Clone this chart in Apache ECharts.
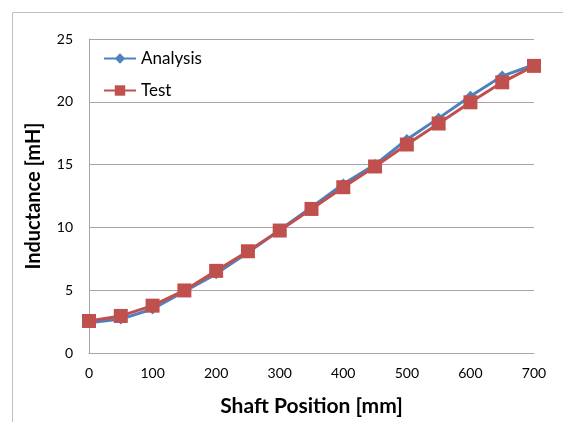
<!DOCTYPE html>
<html><head><meta charset="utf-8">
<script src="https://cdn.jsdelivr.net/npm/echarts@6/dist/echarts.min.js"></script>
<style>html,body{margin:0;padding:0;background:#fff}#c{width:563px;height:422px}</style>
</head><body><div id="c"></div>
<script>
var positions = [0,50,100,150,200,250,300,350,400,450,500,550,600,650,700];
var analysis = [2.4,2.7,3.5,4.9,6.3,8.0,9.8,11.6,13.45,15.0,17.0,18.7,20.45,22.05,22.95];
var test = [2.55,2.95,3.77,4.98,6.54,8.1,9.75,11.47,13.2,14.85,16.6,18.27,19.96,21.55,22.86];
var xTicks = [0,100,200,300,400,500,600,700];
var yTicks = [0,5,10,15,20,25];

var chart = echarts.init(document.getElementById('c'), null, {renderer:'canvas'});
var F = 'Lato, "Liberation Sans", sans-serif';
chart.setOption({
  animation:false,
  backgroundColor:'#fff',
  graphic:[{type:'rect',shape:{x:12.5,y:12.5,width:700,height:600},style:{fill:'none',stroke:'#bfbfbf',lineWidth:1},silent:true}],
  grid:{left:89,top:39,width:445,height:316,containLabel:false},
  legend:{orient:'vertical',left:98,top:45,itemWidth:32,itemHeight:13,itemGap:15,
    textStyle:{fontFamily:F,fontSize:17,color:'#000'},
    data:['Analysis','Test']},
  xAxis:{type:'value',min:xTicks[0],max:xTicks[xTicks.length-1],interval:100,
    name:'Shaft Position [mm]',nameLocation:'middle',nameGap:43,
    nameTextStyle:{fontFamily:F,fontSize:21,fontWeight:'bold',color:'#000'},
    axisLine:{show:true,lineStyle:{color:'#a6a6a6',width:1}},
    axisTick:{show:false},splitLine:{show:false},
    axisLabel:{fontFamily:F,fontSize:14,color:'#000',margin:13}},
  yAxis:{type:'value',min:yTicks[0],max:yTicks[yTicks.length-1],interval:5,
    name:'Inductance [mH]',nameLocation:'middle',nameGap:45,nameRotate:90,
    nameTextStyle:{fontFamily:F,fontSize:20,fontWeight:'bold',color:'#000'},
    axisLine:{show:true,lineStyle:{color:'#a6a6a6',width:1}},
    axisTick:{show:false},
    splitLine:{show:true,lineStyle:{color:'#a6a6a6',width:1}},
    axisLabel:{fontFamily:F,fontSize:14,color:'#000',margin:16}},
  series:[
    {name:'Analysis',type:'line',data:positions.map(function(p,i){return [p,analysis[i]];}),
     symbol:'diamond',symbolSize:11,color:'#4F81BD',lineStyle:{width:3,color:'#4F81BD'},
     itemStyle:{color:'#4F81BD'}},
    {name:'Test',type:'line',data:positions.map(function(p,i){return [p,test[i]];}),
     symbol:'rect',symbolSize:14,color:'#C0504D',lineStyle:{width:3,color:'#C0504D'},
     itemStyle:{color:'#C0504D'}}
  ]
});
</script></body></html>
